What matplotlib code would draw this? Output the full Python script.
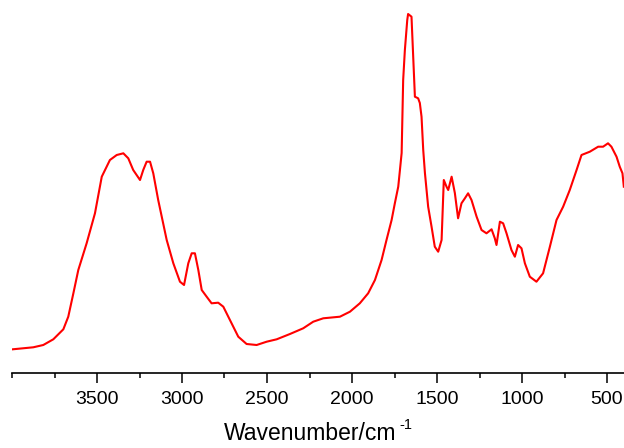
import matplotlib
matplotlib.use("Agg")
import matplotlib.pyplot as plt
from matplotlib.ticker import MultipleLocator

plt.rcParams['font.family'] = ['Liberation Sans', 'DejaVu Sans']

# FTIR spectrum (wavenumber in cm^-1, intensity in arbitrary units)
wavenumber = [3996, 3875, 3816, 3757, 3698, 3669, 3639, 3610, 3561, 3512,
              3472, 3424, 3384, 3345, 3316, 3287, 3247, 3228, 3208, 3188,
              3169, 3140, 3090, 3051, 3012, 2988, 2963, 2943, 2924, 2904,
              2884, 2855, 2826, 2787, 2757, 2718, 2669, 2620, 2561, 2502,
              2443, 2365, 2287, 2228, 2169, 2071, 2012, 1954, 1905, 1865,
              1826, 1797, 1767, 1748, 1728, 1718, 1708, 1699, 1689, 1675,
              1670, 1650, 1640, 1630, 1611, 1601, 1591, 1581, 1571, 1552,
              1532, 1513, 1493, 1473, 1460, 1444, 1434, 1414, 1395, 1376,
              1356, 1336, 1317, 1297, 1267, 1238, 1209, 1179, 1160, 1150,
              1130, 1111, 1091, 1062, 1042, 1023, 1003, 983, 954, 915,
              876, 836, 797, 758, 719, 679, 650, 601, 552, 523,
              494, 474, 444, 425, 409, 401]
intensity = [23.7, 25.7, 28, 33.7, 43.7, 56.3, 79.7, 103, 129.7, 159.7,
             196.3, 213, 218, 219.7, 214.7, 203, 193, 203, 211.3, 211.3,
             199.7, 173, 133, 109.7, 91.3, 88, 109.7, 119.7, 119.7, 103,
             83, 76.3, 69.7, 70.3, 66.3, 53, 36.3, 29, 28, 31.3,
             33.7, 39, 44.7, 51.3, 54.7, 56.3, 61.3, 69.7, 79.7, 93,
             113, 133, 153, 169.7, 186.3, 203, 220, 293, 323, 353,
             359, 356.3, 316.3, 276.3, 274.7, 270, 256.3, 223, 200, 166.3,
             146.3, 126.3, 121.3, 133, 193, 186.3, 183, 196.3, 180, 154.7,
             169.7, 174.7, 179.7, 173, 156.3, 143, 139.7, 143.7, 134.7, 128,
             151.3, 149.7, 139.7, 123, 116.3, 128, 124.7, 109.7, 96.3, 91.3,
             99.7, 126.3, 153, 166.3, 183, 203, 218, 221.3, 226.3, 226.3,
             229.7, 226.3, 216.3, 206.3, 199.7, 186.3]

x_major = [3500, 3000, 2500, 2000, 1500, 1000, 500]
x_label = 'Wavenumber/cm'
x_label_sup = '-1'

fig = plt.figure(figsize=(6.24, 4.48), dpi=100)
ax = fig.add_axes([12.0 / 624, 75 / 448, 1 - 12.0 / 624, 373 / 448])
ax.plot(wavenumber, intensity, color='#ff0000', lw=1.5)
ax.set_xlim(4000, 400)
ax.set_ylim(0, 373)

for s in ['top', 'left', 'right']:
    ax.spines[s].set_visible(False)
ax.spines['bottom'].set_linewidth(1.2)
ax.set_yticks([])
ax.set_xticks(x_major)
ax.xaxis.set_minor_locator(MultipleLocator(250))
ax.tick_params(axis='x', which='major', direction='out', length=7.2, width=1.1,
               labelsize=14, pad=6)
ax.tick_params(axis='x', which='minor', direction='out', length=3.4, width=1.1)
lab = ax.set_xlabel(x_label, fontsize=16.5, labelpad=10)
lab.set_x(0.488)

fig.canvas.draw()
bb = lab.get_window_extent(fig.canvas.get_renderer())
fig.text((bb.x1 + 2) / fig.bbox.width, (bb.y1 + 4) / fig.bbox.height, x_label_sup,
         fontsize=10.5, ha='left', va='top')

fig.savefig('out.png', dpi=100)
